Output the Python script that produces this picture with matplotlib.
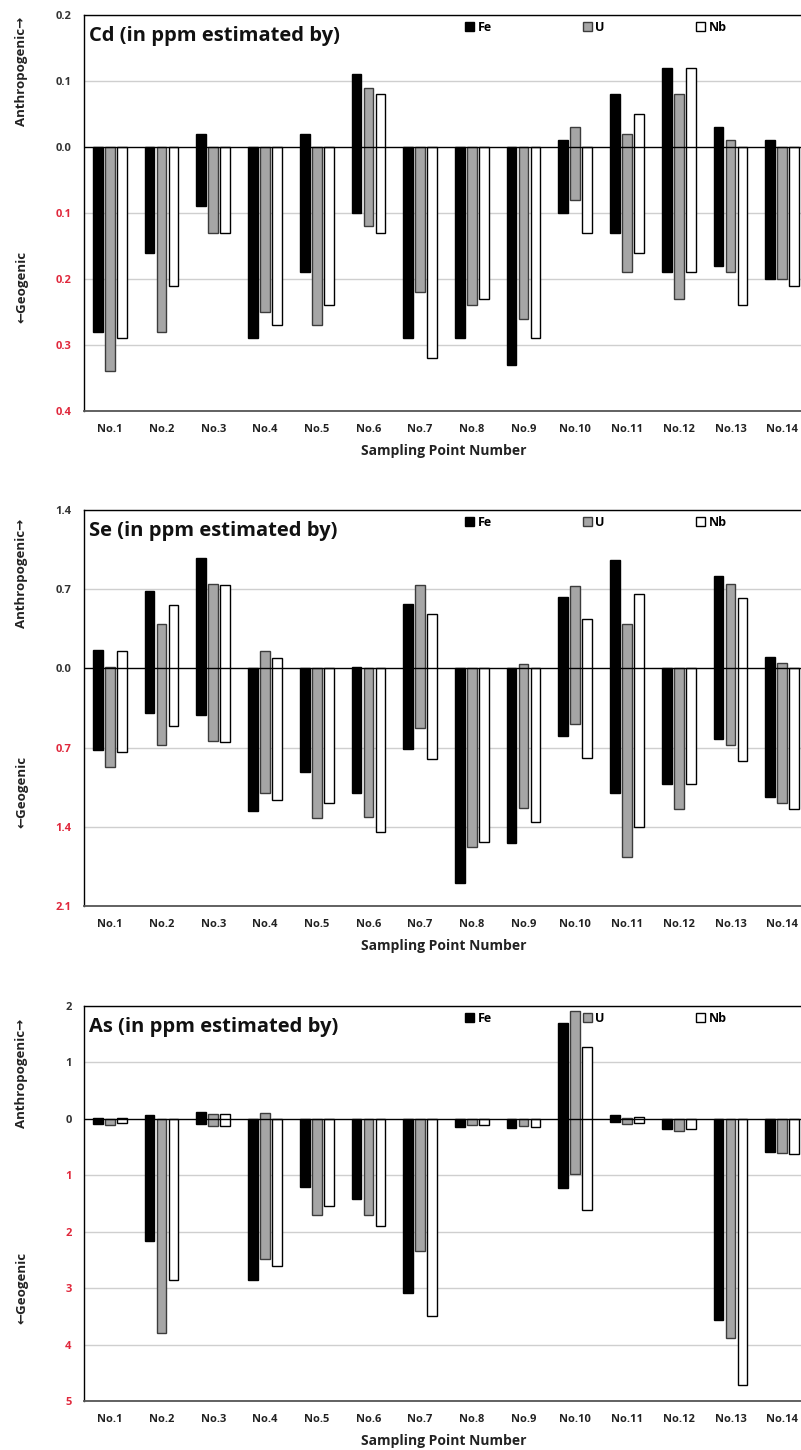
import matplotlib
matplotlib.use("Agg")
import matplotlib.pyplot as plt
from matplotlib.patches import Patch
import numpy as np

plt.rcParams['font.family'] = ['Open Sans', 'DejaVu Sans']
plt.rcParams['font.weight'] = 'bold'

categories = ["No.1", "No.2", "No.3", "No.4", "No.5", "No.6", "No.7",
              "No.8", "No.9", "No.10", "No.11", "No.12", "No.13", "No.14"]
series = ["Fe", "U", "Nb"]

# Cd (ppm): anthropogenic (up) and geogenic (down, magnitude)
cd_fe_anthro = [0, 0, 0.02, 0, 0.02, 0.11, 0, 0, 0, 0.01, 0.08, 0.12, 0.03, 0.01]
cd_fe_geo = [0.28, 0.16, 0.09, 0.29, 0.19, 0.10, 0.29, 0.29, 0.33, 0.10, 0.13, 0.19, 0.18, 0.20]
cd_u_anthro = [0, 0, 0, 0, 0, 0.09, 0, 0, 0, 0.03, 0.02, 0.08, 0.01, 0]
cd_u_geo = [0.34, 0.28, 0.13, 0.25, 0.27, 0.12, 0.22, 0.24, 0.26, 0.08, 0.19, 0.23, 0.19, 0.20]
cd_nb_anthro = [0, 0, 0, 0, 0, 0.08, 0, 0, 0, 0, 0.05, 0.12, 0, 0]
cd_nb_geo = [0.29, 0.21, 0.13, 0.27, 0.24, 0.13, 0.32, 0.23, 0.29, 0.13, 0.16, 0.19, 0.24, 0.21]

# Se (ppm)
se_fe_anthro = [0.16, 0.68, 0.98, 0, 0, 0.01, 0.57, 0, 0, 0.63, 0.96, 0, 0.82, 0.10]
se_fe_geo = [0.72, 0.39, 0.41, 1.26, 0.92, 1.10, 0.71, 1.90, 1.54, 0.60, 1.10, 1.02, 0.62, 1.14]
se_u_anthro = [0.01, 0.39, 0.75, 0.15, 0, 0, 0.74, 0, 0.04, 0.73, 0.39, 0, 0.75, 0.05]
se_u_geo = [0.87, 0.68, 0.64, 1.10, 1.32, 1.31, 0.53, 1.58, 1.23, 0.49, 1.67, 1.24, 0.68, 1.19]
se_nb_anthro = [0.15, 0.56, 0.74, 0.09, 0, 0, 0.48, 0, 0, 0.44, 0.66, 0, 0.62, 0]
se_nb_geo = [0.74, 0.51, 0.65, 1.16, 1.19, 1.45, 0.80, 1.53, 1.36, 0.79, 1.40, 1.02, 0.82, 1.24]

# As (ppm)
as_fe_anthro = [0.02, 0.06, 0.13, 0, 0, 0, 0, 0, 0, 1.69, 0.06, 0, 0, 0]
as_fe_geo = [0.09, 2.16, 0.09, 2.85, 1.20, 1.42, 3.09, 0.15, 0.17, 1.23, 0.06, 0.18, 3.56, 0.59]
as_u_anthro = [0, 0, 0.09, 0.11, 0, 0, 0, 0, 0, 1.92, 0.02, 0, 0, 0]
as_u_geo = [0.11, 3.79, 0.12, 2.48, 1.70, 1.70, 2.35, 0.11, 0.12, 0.98, 0.09, 0.22, 3.88, 0.61]
as_nb_anthro = [0.02, 0, 0.09, 0, 0, 0, 0, 0, 0, 1.28, 0.04, 0, 0, 0]
as_nb_geo = [0.08, 2.85, 0.12, 2.61, 1.54, 1.89, 3.50, 0.11, 0.15, 1.62, 0.08, 0.18, 4.71, 0.62]

cd_ticks = [-0.4, -0.3, -0.2, -0.1, 0.0, 0.1, 0.2]
se_ticks = [-2.1, -1.4, -0.7, 0.0, 0.7, 1.4]
as_ticks = [-5, -4, -3, -2, -1, 0, 1, 2]

panels = [
    dict(title="Cd (in ppm estimated by)",
         anthro=[cd_fe_anthro, cd_u_anthro, cd_nb_anthro],
         geo=[cd_fe_geo, cd_u_geo, cd_nb_geo],
         ticks=cd_ticks, fmt="{:.1f}", rect=[84, 15, 724, 396],
         anthro_y=0.114, geo_y=-0.212),
    dict(title="Se (in ppm estimated by)",
         anthro=[se_fe_anthro, se_u_anthro, se_nb_anthro],
         geo=[se_fe_geo, se_u_geo, se_nb_geo],
         ticks=se_ticks, fmt="{:.1f}", rect=[84, 510, 724, 396],
         anthro_y=0.84, geo_y=-1.09),
    dict(title="As (in ppm estimated by)",
         anthro=[as_fe_anthro, as_u_anthro, as_nb_anthro],
         geo=[as_fe_geo, as_u_geo, as_nb_geo],
         ticks=as_ticks, fmt="{:.0f}", rect=[84, 1006, 724, 395],
         anthro_y=0.80, geo_y=-3.0),
]

W, H = 801, 1450
fig = plt.figure(figsize=(W / 100, H / 100), dpi=100)

face = ["black", "#a6a6a6", "white"]
edge = ["black", "#3c3c3c", "black"]
offsets = [-0.232, 0.0, 0.232]
bw = 0.19
pos_color = "#333333"
neg_color = "#e0283c"

x = np.arange(len(categories))

for p in panels:
    l, t, w, h = p["rect"]
    ax = fig.add_axes([l / W, 1 - (t + h) / H, w / W, h / H])
    for k in range(3):
        up = np.array(p["anthro"][k])
        dn = np.array(p["geo"][k])
        ax.bar(x + offsets[k], up + dn, bottom=-dn, width=bw,
               color=face[k], edgecolor=edge[k], linewidth=1.0, zorder=3)
    ticks = p["ticks"]
    ax.set_ylim(ticks[0], ticks[-1])
    ax.set_xlim(-0.5, len(categories) - 0.5)
    ax.set_yticks(ticks, labels=[p["fmt"].format(abs(v)) for v in ticks])
    for v, lab in zip(ticks, ax.get_yticklabels()):
        lab.set_color(neg_color if v < 0 else pos_color)
        lab.set_fontweight('bold')
    ax.set_xticks(x, labels=categories)
    ax.tick_params(axis='both', length=0, labelsize=8)
    ax.tick_params(axis='y', pad=9)
    ax.tick_params(axis='x', pad=9, labelcolor="#222222")
    for v in ticks:
        if v != 0:
            ax.axhline(v, color="#cfcfcf", linewidth=1.0, zorder=1)
    ax.axhline(0, color="black", linewidth=1.0, zorder=4)
    for s in ["left", "top"]:
        ax.spines[s].set_color("black")
        ax.spines[s].set_linewidth(1.0)
    ax.spines["bottom"].set_color("#555555")
    ax.spines["bottom"].set_linewidth(1.3)
    ax.spines["right"].set_visible(False)

    ax.text(0.007, 1 - 26 / h, p["title"], transform=ax.transAxes,
            fontsize=14.5, fontweight='bold', va='baseline', ha='left',
            color="#111111", zorder=6)
    ax.text(0.497, -40 / h, "Sampling Point Number", transform=ax.transAxes,
            fontsize=10, fontweight='bold', ha='center', va='center',
            color="#222222")
    ytr = ax.get_yaxis_transform()
    ax.text((22 - l) / w, p["anthro_y"], "Anthropogenic\u2192", transform=ytr,
            rotation=90, ha='center', va='center', fontsize=9.5,
            fontweight='bold', color="#222222")
    ax.text((22 - l) / w, p["geo_y"], "\u2190Geogenic", transform=ytr,
            rotation=90, ha='center', va='center', fontsize=9.5,
            fontweight='bold', color="#222222")

    handles = [Patch(facecolor=face[k], edgecolor=edge[k], linewidth=1.0)
               for k in range(3)]
    ax.legend(handles, series, ncol=3, loc='upper left',
              bbox_to_anchor=((465 - l) / w, 1 - 6 / h), frameon=False,
              borderpad=0, borderaxespad=0, handlelength=0.7,
              handleheight=0.7, handletextpad=0.3, columnspacing=7.3,
              prop=dict(size=9, weight='bold'))

fig.savefig("out.png", dpi=100)
